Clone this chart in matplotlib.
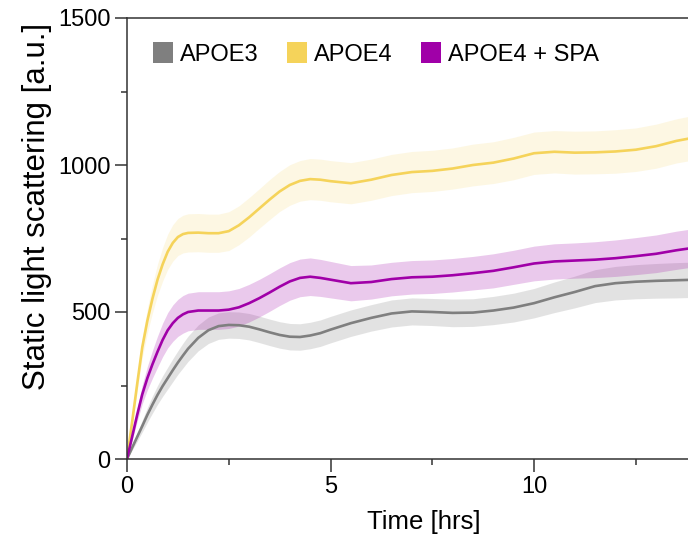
import matplotlib
matplotlib.use('Agg')
import matplotlib.pyplot as plt
import matplotlib.ticker as ticker
from matplotlib.patches import Patch
import numpy as np

plt.rcParams['font.family'] = ['Liberation Sans', 'DejaVu Sans']

# time in hours
time = [0, 0.125, 0.25, 0.375, 0.5, 0.625, 0.75, 0.875, 1.0, 1.125, 1.25, 1.375, 1.5,
        1.75, 2.0, 2.25, 2.5, 2.75, 3.0, 3.25, 3.5, 3.75, 4.0, 4.25, 4.5, 4.75, 5.0,
        5.5, 6.0, 6.5, 7.0, 7.5, 8.0, 8.5, 9.0, 9.5, 10.0, 10.5, 11.0, 11.5, 12.0,
        12.5, 13.0, 13.5, 14.0]

apoe3 = [0, 38, 75, 112, 150, 185, 218, 248, 275, 302, 328, 352, 375,
         412, 438, 452, 456, 455, 450, 441, 431, 422, 416, 415, 420, 428, 440,
         462, 480, 495, 502, 500, 497, 498, 505, 515, 530, 550, 568, 588, 598,
         603, 606, 608, 610]
apoe3_err = [0, 8, 15, 20, 25, 29, 32, 35, 37, 39, 40, 42, 43,
             44, 45, 45, 45, 45, 45, 45, 45, 45, 45, 45, 45, 45, 45,
             45, 45, 46, 46, 46, 47, 47, 48, 49, 50, 52, 54, 56, 57,
             58, 59, 60, 60]

apoe4 = [0, 125, 255, 380, 470, 545, 610, 662, 705, 735, 755, 765, 769,
         770, 768, 768, 775, 795, 822, 852, 882, 910, 932, 946, 952, 950, 945,
         938, 950, 966, 976, 980, 988, 1000, 1008, 1022, 1040, 1045, 1042, 1043, 1046,
         1052, 1064, 1082, 1095]
apoe4_err = [0, 15, 25, 35, 42, 48, 53, 57, 60, 62, 63, 64, 65,
             65, 65, 65, 66, 66, 67, 67, 68, 68, 69, 69, 70, 70, 70,
             70, 70, 70, 70, 70, 70, 71, 71, 72, 72, 72, 73, 73, 74,
             74, 75, 75, 76]

apoe4_spa = [0, 75, 150, 220, 275, 322, 365, 405, 438, 462, 480, 492, 500,
             505, 505, 505, 508, 516, 530, 547, 566, 586, 604, 616, 620, 616, 610,
             598, 602, 612, 618, 620, 625, 632, 640, 652, 665, 672, 675, 678, 683,
             690, 698, 710, 720]
apoe4_spa_err = [0, 12, 22, 32, 40, 47, 53, 57, 60, 62, 63, 64, 64,
                 64, 64, 64, 64, 64, 64, 64, 64, 64, 64, 64, 64, 63, 62,
                 60, 58, 57, 57, 57, 57, 57, 58, 58, 59, 60, 60, 61, 62,
                 63, 64, 65, 65]

labels = ['APOE3', 'APOE4', 'APOE4 + SPA']
colors = ['#7f7f7f', '#f5d35a', '#a000a8']
band_alpha = [0.22, 0.17, 0.21]

fig = plt.figure(figsize=(6.88, 5.38), dpi=100)
# axes run past the right edge of the figure, like the cropped original
ax = fig.add_axes([127 / 688, 79 / 538, 610.5 / 688, 441 / 538])

series = [(apoe3, apoe3_err), (apoe4, apoe4_err), (apoe4_spa, apoe4_spa_err)]
t = np.array(time)
for (vals, err), c, a in zip(series, colors, band_alpha):
    v = np.array(vals)
    e = np.array(err)
    ax.fill_between(t, v - e, v + e, color=c, alpha=a, linewidth=0)
for (vals, err), c in zip(series, colors):
    ax.plot(t, vals, color=c, linewidth=1.9)

ax.set_xlim(0, 15)
ax.set_ylim(0, 1500)
ax.xaxis.set_major_locator(ticker.FixedLocator([0, 5, 10]))
ax.xaxis.set_minor_locator(ticker.FixedLocator([2.5, 7.5, 12.5]))
ax.yaxis.set_major_locator(ticker.MultipleLocator(500))
ax.yaxis.set_minor_locator(ticker.MultipleLocator(250))

for s in ax.spines.values():
    s.set_linewidth(1.1)
    s.set_color('#333333')
ax.tick_params(which='both', direction='out', width=1.1, color='#333333',
               labelsize=17)
ax.tick_params(which='major', length=9, pad=3)
ax.tick_params(which='minor', length=4.5)

fig.text(424 / 688, 1 - 522 / 538, 'Time [hrs]', fontsize=18.5,
         ha='center', va='center')
fig.text(37 / 688, 1 - 206 / 538, 'Static light scattering [a.u.]', fontsize=22.5,
         rotation=90, ha='center', va='center')

handles = [Patch(facecolor=c, edgecolor='none') for c in colors]
ax.legend(handles, labels, ncol=3, frameon=False, fontsize=17,
          loc='center left', bbox_to_anchor=(26 / 610.5, (459 - 54) / 441),
          handlelength=0.85, handleheight=0.95, handletextpad=0.3,
          columnspacing=1.2, borderaxespad=0, borderpad=0)

plt.savefig('out.png', dpi=100)
